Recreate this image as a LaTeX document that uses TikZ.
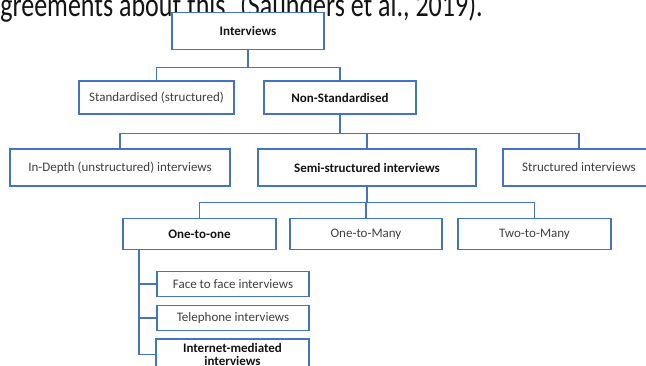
\documentclass[tikz,border=0pt]{standalone}
\usepackage{fontspec}
\setmainfont{Carlito}
\usepackage{graphicx}
\usepackage{tikz}
\usetikzlibrary{positioning, calc}
\definecolor{myblue}{RGB}{68,114,196}
\definecolor{mytext}{RGB}{64,64,64}
\definecolor{mydark}{RGB}{20,20,20}
\tikzset{
  box/.style={rectangle, draw=myblue, fill=white, line width=1.4pt,
    align=center, inner sep=0pt, text=mytext,
    font=\fontsize{13}{13.5}\selectfont},
  boldbox/.style={box, text=mydark,
    font=\fontsize{13}{13.5}\selectfont\bfseries},
  thickbox/.style={boldbox, line width=1.8pt},
  conn/.style={draw=myblue, line width=1.4pt}
}

\begin{document}
\begin{tikzpicture}[x=1pt, y=-1pt]
  \useasboundingbox (0,0) rectangle (646,365);
  \clip (0,0) rectangle (646,365);

  % Page text cut off at the top
  \node[anchor=base east, inner sep=0pt, text=mydark,
    font=\fontsize{26}{30}\selectfont] (pagetext) at (483,16) {\scalebox{1}[1.3]{agreements about this. (Saunders et al., 2019).}};

  % Level 1 and 2
  \node[boldbox, minimum width=152pt, minimum height=37pt] (intv) at (248,31) {Interviews};
  \node[box, minimum width=155pt, minimum height=33pt] (std) at (156.5,97.5) {Standardised (structured)};
  \node[boldbox, minimum width=152pt, minimum height=33pt] (nonstd) at (340,97.5) {Non-Standardised};

  % Level 3
  \node[box, minimum width=220pt, minimum height=37pt] (indepth) at (120,167.5) {In-Depth (unstructured) interviews};
  \node[boldbox, minimum width=218pt, minimum height=37pt] (semi) at (367,167.5) {Semi-structured interviews};
  \node[box, minimum width=152pt, minimum height=37pt] (struct) at (579,167.5) {Structured interviews};

  % Level 4
  \node[thickbox, minimum width=153pt, minimum height=31pt] (one2one) at (199.5,234) {One-to-one};
  \node[box, minimum width=152pt, minimum height=31pt] (one2many) at (366,234) {One-to-Many};
  \node[box, minimum width=153pt, minimum height=31pt] (two2many) at (534.5,234) {Two-to-Many};

  % Kinds of one-to-one
  \node[box, minimum width=152pt, minimum height=25pt] (face) at (233,284) {Face to face interviews};
  \node[box, minimum width=152pt, minimum height=25pt] (tel) at (233,318) {Telephone interviews};
  \node[thickbox, minimum width=153pt, minimum height=31pt] (inet) at (232.5,354.5) {Internet-mediated\\interviews};

  % Connections
  \draw[conn] (intv.south) -- ++(0,17) -| (std.north);
  \draw[conn] (intv.south) -- ++(0,17) -| (nonstd.north);
  \draw[conn] (nonstd.south) -- ++(0,19) -| (indepth.north);
  \draw[conn] (nonstd.south) -- ++(0,19) -| (semi.north);
  \draw[conn] (nonstd.south) -- ++(0,19) -| (struct.north);
  \draw[conn] (semi.south) -- ++(0,16) -| (one2one.north);
  \draw[conn] (semi.south) -- ++(0,16) -| (one2many.north);
  \draw[conn] (semi.south) -- ++(0,16) -| (two2many.north);
  \coordinate (trunk) at (139,249.5);
  \draw[conn] (trunk) |- (face.west);
  \draw[conn] (trunk) |- (tel.west);
  \draw[conn] (trunk) |- (inet.west);
\end{tikzpicture}
\end{document}
